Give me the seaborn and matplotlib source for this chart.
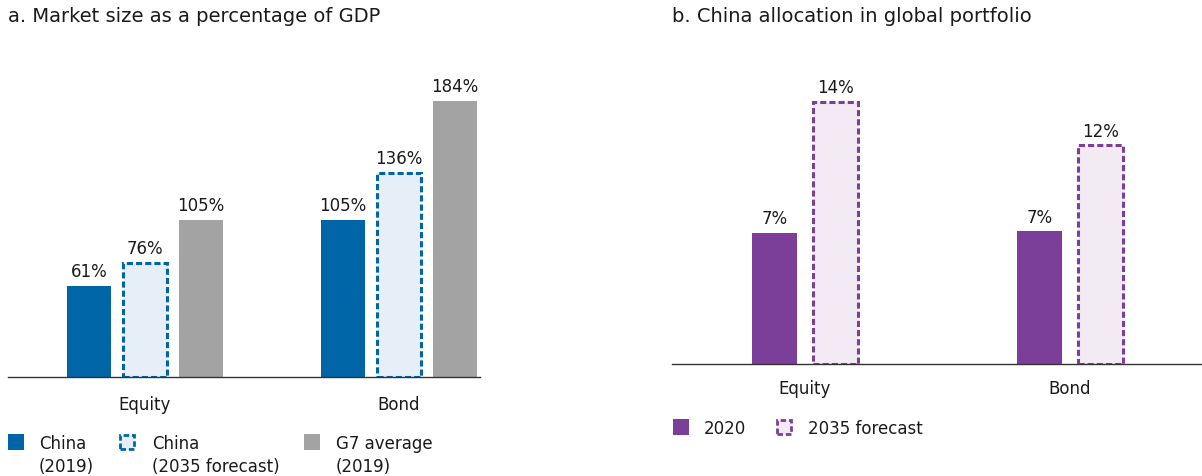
import matplotlib
matplotlib.use("Agg")
import matplotlib.pyplot as plt
import seaborn as sns
import pandas as pd
from matplotlib.patches import Rectangle

# ---------------- data ----------------
categories = ["Equity", "Bond"]

series_a = ["China (2019)", "China (2035 forecast)", "G7 average (2019)"]
china_2019 = [61, 105]
china_2035 = [76, 136]
g7_2019 = [105, 184]

series_b = ["2020", "2035 forecast"]
alloc_2020 = [7.0, 7.1]
alloc_2035 = [14.0, 11.7]

title_a = "a. Market size as a percentage of GDP"
title_b = "b. China allocation in global portfolio"
legend_a = [("China", "(2019)"), ("China", "(2035 forecast)"), ("G7 average", "(2019)")]
legend_b = ["2020", "2035 forecast"]

# ---------------- style ----------------
sns.set_theme(style="white")
plt.rcParams["font.family"] = ["DejaVu Sans"]
TXT = "#1a1a1a"
BLUE = "#0065A6"
BLUE_L = "#E6EEF7"
GRAY = "#A3A3A3"
PURP = "#7B3F99"
PURP_L = "#F2EBF4"
DASH = (0, (2.0, 1.0))
FS = 12
FS_T = 14

W, H = 1202, 477
fig = plt.figure(figsize=(W / 100, H / 100), dpi=100)


def fx(x):
    return x / W


def fy(y):
    return 1 - y / H


df_a = pd.DataFrame({
    "category": categories * 3,
    "series": [s for s in series_a for _ in categories],
    "value": china_2019 + china_2035 + g7_2019,
})
df_b = pd.DataFrame({
    "category": categories * 2,
    "series": [s for s in series_b for _ in categories],
    "value": alloc_2020 + alloc_2035,
})

ax_a = fig.add_axes([fx(8), fy(378), (480 - 8) / W, (378 - 60) / H])
ax_b = fig.add_axes([fx(672), fy(365), (1202 - 672) / W, (365 - 60) / H])

sns.barplot(data=df_a, x="category", y="value", hue="series", order=categories,
            hue_order=series_a, palette=[BLUE, BLUE_L, GRAY], saturation=1,
            width=0.661, gap=0.2, errorbar=None, legend=False, ax=ax_a)
sns.barplot(data=df_b, x="category", y="value", hue="series", order=categories,
            hue_order=series_b, palette=[PURP, PURP_L], saturation=1,
            width=0.464, gap=0.27, errorbar=None, legend=False, ax=ax_b)

styles_a = [(BLUE, BLUE, "solid", 0), (BLUE_L, BLUE, DASH, 2.2), (GRAY, GRAY, "solid", 0)]
styles_b = [(PURP, PURP, "solid", 0), (PURP_L, PURP, DASH, 2.2)]

for ax, styles in ((ax_a, styles_a), (ax_b, styles_b)):
    for cont, (fc, ec, ls, lw) in zip(ax.containers, styles):
        for p in cont:
            p.set_facecolor(fc)
            p.set_edgecolor(ec if lw else "none")
            p.set_linestyle(ls)
            p.set_linewidth(lw)
        ax.bar_label(cont, labels=[f"{v:.0f}%" for v in cont.datavalues],
                     padding=4, fontsize=FS, color=TXT)

ax_a.set_xlim(-0.539, 1.319)
ax_a.set_ylim(0, 212)
ax_b.set_xlim(-0.502, 1.498)
ax_b.set_ylim(0, 16.3)

for ax, pad in ((ax_a, 13), (ax_b, 11)):
    sns.despine(ax=ax, left=True, top=True, right=True, bottom=False)
    ax.spines["bottom"].set_color("#333333")
    ax.spines["bottom"].set_linewidth(1.0)
    ax.set_yticks([])
    ax.set_xlabel("")
    ax.set_ylabel("")
    ax.tick_params(axis="x", length=0, pad=pad, labelsize=FS, labelcolor=TXT)
    ax.set_facecolor("none")

fig.text(fx(8), fy(17), title_a, fontsize=FS_T, color=TXT, va="center", ha="left")
fig.text(fx(672), fy(17), title_b, fontsize=FS_T, color=TXT, va="center", ha="left")


def legend_box(x, y, size, fc, ec, ls, lw):
    fig.add_artist(Rectangle((fx(x), fy(y + size)), size / W, size / H,
                             transform=fig.transFigure, facecolor=fc,
                             edgecolor=ec if lw else "none", linestyle=ls, linewidth=lw))


# legend a
box_x_a = [8, 119, 304]
txt_x_a = [39, 152, 336]
for (fc, ec, ls, lw), bx, tx, (l1, l2) in zip(styles_a, box_x_a, txt_x_a, legend_a):
    if lw:
        legend_box(bx + 1, 436, 14, fc, ec, ls, 2.0)
    else:
        legend_box(bx, 435, 16, fc, ec, ls, lw)
    fig.text(fx(tx), fy(449), l1, fontsize=FS, color=TXT, va="baseline", ha="left")
    fig.text(fx(tx), fy(472), l2, fontsize=FS, color=TXT, va="baseline", ha="left")

# legend b
box_x_b = [673, 776]
txt_x_b = [704, 808]
for (fc, ec, ls, lw), bx, tx, lab in zip(styles_b, box_x_b, txt_x_b, legend_b):
    if lw:
        legend_box(bx + 1, 421, 14, fc, ec, ls, 2.0)
    else:
        legend_box(bx, 420, 16, fc, ec, ls, lw)
    fig.text(fx(tx), fy(434), lab, fontsize=FS, color=TXT, va="baseline", ha="left")

fig.savefig("out.png", dpi=100, facecolor="white")
